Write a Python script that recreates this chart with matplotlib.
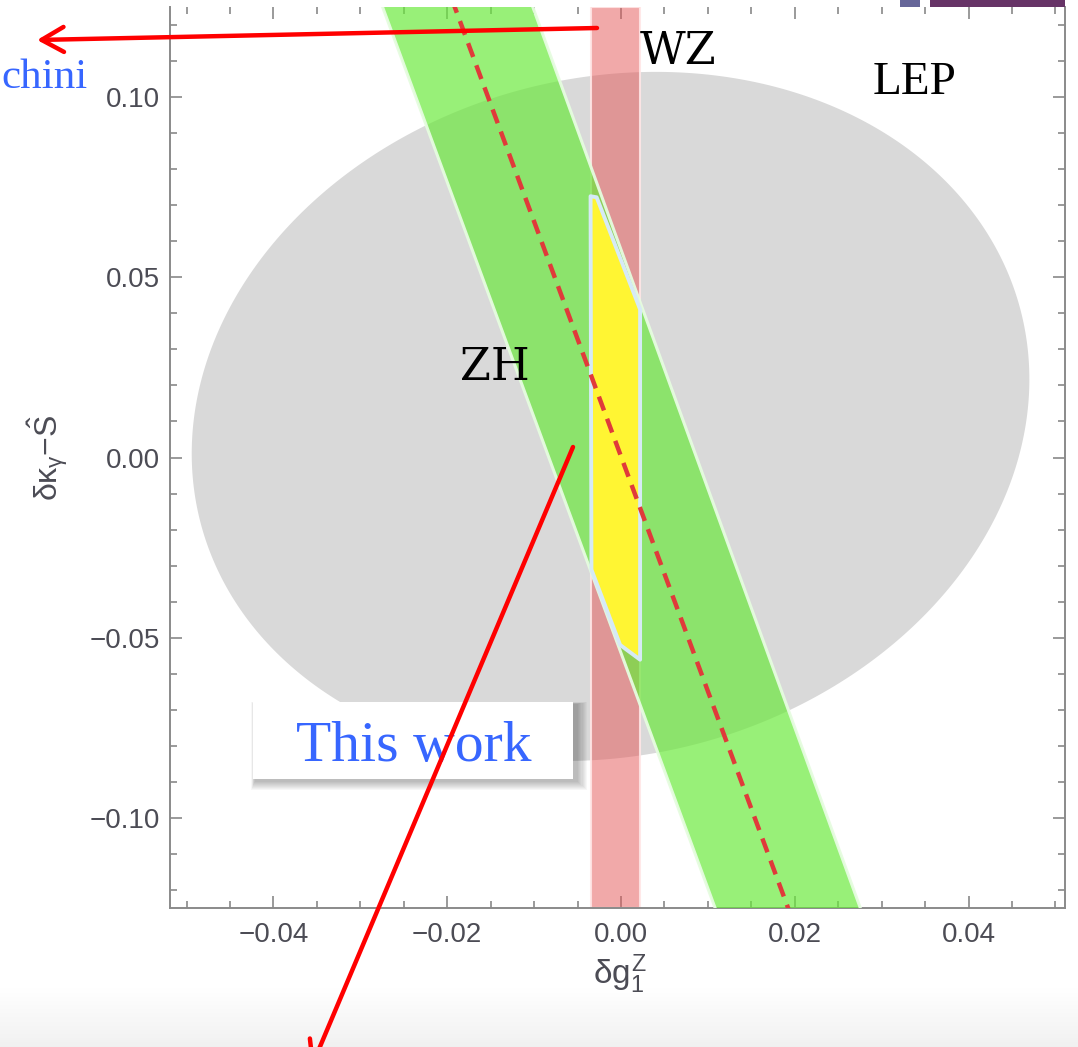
import numpy as np
import matplotlib
matplotlib.use('Agg')
import matplotlib.pyplot as plt
from matplotlib.patches import Polygon, Rectangle, FancyArrowPatch
from matplotlib.ticker import MultipleLocator

# ---------------- data ----------------
x_lim = [-0.0519, 0.0511]
y_lim = [-0.125, 0.125]
x_major = [-0.04, -0.02, 0.00, 0.02, 0.04]
x_major_labels = ['\u22120.04', '\u22120.02', '0.00', '0.02', '0.04']
y_major = [-0.10, -0.05, 0.00, 0.05, 0.10]
y_major_labels = ['\u22120.10', '\u22120.05', '0.00', '0.05', '0.10']
x_minor_step = 0.005
y_minor_step = 0.01

# LEP region (ellipse): centre, half-extents, correlation
lep_center = [-0.0012, 0.0114]
lep_sigma = [0.0482, 0.0956]
lep_rho = 0.108

# WZ band (vertical)
wz_band = [-0.0034, 0.0022]

# ZH band (diagonal): edges at two heights
zh_edge_y = [0.13, -0.13]
zh_left_x = [-0.0282, 0.0116]
zh_right_x = [-0.0109, 0.0283]
# ZH central line
zh_best_y = [0.13, -0.13]
zh_best_x = [-0.0199, 0.0200]

# combined region (yellow)
comb_x = [-0.0035, -0.0028, 0.0022, 0.0022, -0.0001, -0.0034]
comb_y = [0.0725, 0.0722, 0.0411, -0.0561, -0.0520, -0.0311]

# region labels (data coords)
region_labels = ['WZ', 'LEP', 'ZH']
region_label_x = [0.0022, 0.0290, -0.0185]
region_label_y = [0.1092, 0.1008, 0.0215]
region_label_font = ['DejaVu Serif', 'Liberation Serif', 'DejaVu Serif']
region_label_size = [32, 34, 32]

# ---------------- figure ----------------
W, H = 1078, 1047
DPI = 100
plt.rcParams['mathtext.fontset'] = 'custom'
plt.rcParams['mathtext.rm'] = 'Liberation Sans'
plt.rcParams['mathtext.it'] = 'Liberation Sans'
plt.rcParams['mathtext.bf'] = 'Liberation Sans:bold'
plt.rcParams['font.family'] = ['Liberation Sans', 'DejaVu Sans']

fig = plt.figure(figsize=(W / DPI, H / DPI), dpi=DPI, facecolor='white')


def fx(x):
    return x / W


def fy(y):
    return 1 - y / H


# bottom soft gradient strip
bg = fig.add_axes([0, 0, 1, (H - 988) / H], zorder=-5)
grad = np.linspace(0.945, 1.0, 64).reshape(-1, 1)
bg.imshow(np.dstack([grad, grad, grad]), aspect='auto', extent=[0, 1, 0, 1], origin='lower')
bg.set_axis_off()

ax = fig.add_axes([fx(170), fy(908), (1065 - 170) / W, (908 - 7) / H], zorder=0)
ax.set_facecolor('white')
ax.set_xlim(x_lim)
ax.set_ylim(y_lim)

# LEP ellipse
t = np.linspace(0, 2 * np.pi, 500)
ex = lep_center[0] + lep_sigma[0] * np.cos(t)
ey = lep_center[1] + lep_sigma[1] * (lep_rho * np.cos(t) + np.sqrt(1 - lep_rho ** 2) * np.sin(t))
ax.fill(ex, ey, facecolor='#d9d9d9', edgecolor='none', zorder=1)

# WZ band
ax.axvspan(wz_band[0], wz_band[1], facecolor=(229 / 255, 85 / 255, 85 / 255, 0.5),
           edgecolor=(1, 0.9, 0.9, 0.9), lw=1.5, zorder=2)

# ZH band
zh_poly = [(zh_left_x[0], zh_edge_y[0]), (zh_right_x[0], zh_edge_y[0]),
           (zh_right_x[1], zh_edge_y[1]), (zh_left_x[1], zh_edge_y[1])]
ax.add_patch(Polygon(zh_poly, closed=True, facecolor=(104 / 255, 233 / 255, 56 / 255, 0.68),
                     edgecolor=(0.9, 0.99, 0.88, 0.95), lw=2.2, zorder=3))

# combined region
ax.add_patch(Polygon(list(zip(comb_x, comb_y)), closed=True, facecolor='#fff533',
                     edgecolor='#d6eaf6', lw=2.8, zorder=4, joinstyle='round'))

# ZH central dashed line
ax.plot(zh_best_x, zh_best_y, ls=(0, (3.3, 2.0)), color='#e03a3a', lw=3.2, zorder=5)

for lab, lx, ly, ff, fs in zip(region_labels, region_label_x, region_label_y,
                               region_label_font, region_label_size):
    ax.text(lx, ly, lab, family=ff, fontsize=fs, ha='left', va='baseline', color='black', zorder=6)

# axes styling
ax.set_xticks(x_major)
ax.set_xticklabels(x_major_labels)
ax.set_yticks(y_major)
ax.set_yticklabels(y_major_labels)
ax.xaxis.set_minor_locator(MultipleLocator(x_minor_step))
ax.yaxis.set_minor_locator(MultipleLocator(y_minor_step))
ax.tick_params(axis='both', which='both', direction='in', top=True, right=True,
               color='#7f7f7f', width=1.1)
ax.tick_params(which='major', length=8.6, labelsize=20, labelcolor='#4c4c55')
ax.tick_params(which='minor', length=5)
ax.tick_params(axis='x', which='major', pad=10)
ax.tick_params(axis='y', which='major', pad=7)
for side in ['left', 'right', 'bottom']:
    ax.spines[side].set_color('#8a8a8a')
    ax.spines[side].set_linewidth(1.4)
ax.spines['top'].set_visible(False)

ax.set_xlabel(r'$\delta g^{Z}_{1}$', fontsize=24, color='#4c4c55')
ax.xaxis.set_label_coords((620 - 170) / 895, (908 - 953) / 901)
ax.set_ylabel(r'$\delta\kappa_{\gamma}{-}\hat{S}$', fontsize=23, color='#4c4c55')
ax.yaxis.set_label_coords((70 - 170) / 895, 0.5)

# ---------------- annotations (figure level) ----------------
# "This work" box with soft shadow
bx0, by0, bx1, by1 = 253, 702, 573, 779
for k in range(1, 10):
    fig.add_artist(Rectangle((fx(bx0 + 2 - k * 0.4), fy(by1 + 2 + k)), (bx1 - bx0 + 2 + k * 1.5) / W,
                             (by1 - by0 + k * 1.2) / H, transform=fig.transFigure,
                             facecolor='black', edgecolor='none', alpha=0.03, zorder=5))
fig.add_artist(Rectangle((fx(bx0), fy(by1)), (bx1 - bx0) / W, (by1 - by0) / H,
                         transform=fig.transFigure, facecolor='white', edgecolor='none', zorder=6))
fig.text(fx(413.5), fy(761), 'This work', family='Liberation Serif', fontsize=41.5,
         color='#3766ff', ha='center', va='baseline', zorder=7)
fig.text(fx(88), fy(88), 'chini', family='Liberation Serif', fontsize=31,
         color='#3766ff', ha='right', va='baseline', zorder=7)

# red arrows
arr_style = '->,head_length=0.8,head_width=0.45'
fig.add_artist(FancyArrowPatch((fx(597), fy(28)), (fx(37), fy(40)), transform=fig.transFigure,
                               arrowstyle=arr_style, mutation_scale=20, color='#ff0000',
                               lw=3.2, shrinkA=0, shrinkB=0, zorder=8))
fig.add_artist(FancyArrowPatch((fx(573), fy(447)), (fx(311), fy(1068)), transform=fig.transFigure,
                               arrowstyle=arr_style, mutation_scale=20, color='#ff0000',
                               lw=3.2, shrinkA=0, shrinkB=0, zorder=8))

# top-right slide decorations
fig.add_artist(Rectangle((fx(900), fy(7)), 20 / W, 7 / H, transform=fig.transFigure,
                         facecolor='#666699', edgecolor='none', zorder=9))
fig.add_artist(Rectangle((fx(930), fy(7)), 135 / W, 7 / H, transform=fig.transFigure,
                         facecolor='#663366', edgecolor='none', zorder=9))

fig.savefig('out.png', dpi=DPI, facecolor='white')
